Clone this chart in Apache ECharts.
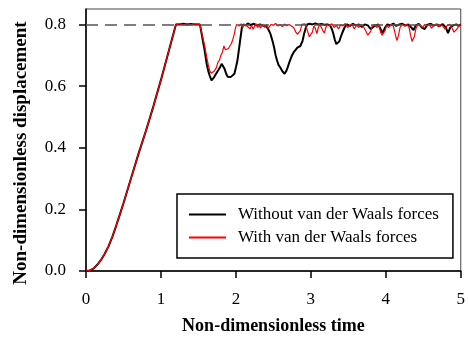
<!DOCTYPE html>
<html>
<head>
<meta charset="utf-8" />
<title></title>
<script src="https://cdn.jsdelivr.net/npm/echarts@6/dist/echarts.min.js"></script>
<style>
  html, body { margin: 0; padding: 0; background: #fff; }
  #chart { width: 468px; height: 340px; }
</style>
</head>
<body>
<div id="chart"></div>
<script>
// shared rise from rest up to the plateau
var riseT = [0, 0.05, 0.1, 0.15, 0.2, 0.25, 0.3, 0.35, 0.4, 0.45, 0.5, 0.6, 0.7, 0.8, 0.9, 1.0, 1.1, 1.2];
var riseV = [0, 0.002, 0.008, 0.02, 0.036, 0.056, 0.08, 0.11, 0.145, 0.182, 0.22, 0.3, 0.38, 0.455, 0.535, 0.62, 0.71, 0.8];

// without van der Waals forces
var blackT = [1.25, 1.3, 1.35, 1.4, 1.45, 1.52,
  1.55, 1.58, 1.61, 1.63, 1.65, 1.675, 1.69, 1.71, 1.73, 1.76, 1.79, 1.81, 1.83, 1.85, 1.87, 1.89, 1.91, 1.93, 1.95, 1.98, 2.0, 2.02, 2.05, 2.08, 2.1,
  2.13, 2.16, 2.2, 2.24, 2.28, 2.32, 2.36, 2.4, 2.43,
  2.46, 2.49, 2.51, 2.53, 2.55, 2.57, 2.59, 2.62, 2.65, 2.67, 2.69, 2.71, 2.73, 2.75, 2.77, 2.79, 2.82, 2.84, 2.86, 2.89, 2.91, 2.93, 2.95,
  2.98, 3.02, 3.06, 3.1, 3.14, 3.18, 3.22, 3.26,
  3.28, 3.3, 3.32, 3.34, 3.36, 3.38, 3.4, 3.42, 3.45, 3.48,
  3.52, 3.56, 3.6, 3.64, 3.68, 3.72, 3.76, 3.8, 3.82, 3.85, 3.9, 3.93, 3.96, 3.99, 4.02, 4.06, 4.1, 4.14, 4.18, 4.22, 4.26, 4.3, 4.34, 4.37, 4.4, 4.44, 4.48, 4.52, 4.55, 4.6, 4.64, 4.68, 4.72, 4.76, 4.8, 4.83, 4.86, 4.9, 4.94, 4.97, 5.0];
var blackV = [0.8, 0.802, 0.8, 0.801, 0.8, 0.8,
  0.76, 0.72, 0.672, 0.65, 0.634, 0.618, 0.622, 0.629, 0.63, 0.65, 0.662, 0.672, 0.668, 0.655, 0.64, 0.63, 0.625, 0.629, 0.626, 0.64, 0.66, 0.682, 0.736, 0.79, 0.8,
  0.797, 0.803, 0.798, 0.802, 0.797, 0.8, 0.796, 0.795, 0.785,
  0.77, 0.745, 0.725, 0.7, 0.682, 0.668, 0.661, 0.648, 0.64, 0.648, 0.66, 0.675, 0.688, 0.7, 0.709, 0.712, 0.725, 0.722, 0.73, 0.747, 0.77, 0.787, 0.8,
  0.802, 0.8, 0.803, 0.8, 0.801, 0.799, 0.8, 0.796,
  0.785, 0.77, 0.75, 0.736, 0.742, 0.745, 0.76, 0.773, 0.79, 0.8,
  0.795, 0.802, 0.797, 0.8, 0.792, 0.8, 0.797, 0.785, 0.78, 0.795, 0.8, 0.785, 0.772, 0.79, 0.8, 0.797, 0.803, 0.795, 0.8, 0.802, 0.796, 0.8, 0.79, 0.782, 0.797, 0.802, 0.79, 0.785, 0.798, 0.802, 0.796, 0.8, 0.795, 0.801, 0.79, 0.772, 0.79, 0.797, 0.8, 0.795, 0.8];

// with van der Waals forces
var redT = [1.25, 1.3, 1.35, 1.4, 1.45, 1.52,
  1.55, 1.58, 1.61, 1.63, 1.65, 1.67, 1.69, 1.71, 1.72, 1.74, 1.76, 1.78, 1.8, 1.82, 1.84, 1.86, 1.88, 1.9, 1.92, 1.94, 1.96, 1.98, 1.99, 2.01,
  2.03, 2.05, 2.07, 2.09, 2.11, 2.13, 2.15, 2.17, 2.19, 2.21, 2.23, 2.25, 2.27, 2.29, 2.31, 2.33, 2.35, 2.37, 2.39, 2.41, 2.43, 2.45, 2.47,
  2.5, 2.53, 2.56, 2.59, 2.62, 2.65, 2.68, 2.71, 2.74, 2.77, 2.8, 2.82, 2.84, 2.86, 2.88, 2.9, 2.92, 2.94, 2.96, 2.98, 3.0, 3.02, 3.04,
  3.06, 3.08, 3.1, 3.12, 3.14, 3.16, 3.18, 3.2, 3.22, 3.25, 3.28, 3.31, 3.34, 3.37, 3.4, 3.43, 3.46, 3.49, 3.52, 3.55, 3.58, 3.61, 3.64,
  3.67, 3.7, 3.73, 3.76, 3.78, 3.8, 3.82, 3.85, 3.88, 3.91, 3.93, 3.95, 3.97, 3.99, 4.01, 4.04, 4.07, 4.1, 4.12, 4.14, 4.15, 4.17, 4.19,
  4.22, 4.25, 4.28, 4.31, 4.33, 4.35, 4.36, 4.38, 4.4, 4.43, 4.46, 4.49, 4.52, 4.55, 4.58, 4.61, 4.64, 4.67, 4.7, 4.73, 4.76, 4.79,
  4.82, 4.85, 4.88, 4.91, 4.93, 4.95, 4.98, 5.0];
var redV = [0.802, 0.798, 0.803, 0.799, 0.802, 0.8,
  0.765, 0.735, 0.694, 0.67, 0.65, 0.642, 0.64, 0.648, 0.65, 0.66, 0.677, 0.684, 0.7, 0.71, 0.73, 0.718, 0.712, 0.722, 0.73, 0.738, 0.752, 0.77, 0.784, 0.8,
  0.806, 0.795, 0.802, 0.79, 0.8, 0.805, 0.794, 0.8, 0.786, 0.797, 0.784, 0.795, 0.802, 0.79, 0.797, 0.788, 0.8, 0.795, 0.79, 0.8, 0.787, 0.79, 0.8,
  0.797, 0.803, 0.795, 0.8, 0.793, 0.801, 0.796, 0.8, 0.795, 0.79, 0.775, 0.768, 0.762, 0.78, 0.8, 0.795, 0.802, 0.79, 0.775, 0.76, 0.757, 0.775, 0.795,
  0.787, 0.77, 0.79, 0.8, 0.795, 0.78, 0.772, 0.79, 0.8, 0.795, 0.802, 0.79, 0.797, 0.785, 0.8, 0.795, 0.803, 0.79, 0.797, 0.8, 0.785, 0.798, 0.79,
  0.8, 0.793, 0.78, 0.765, 0.762, 0.778, 0.795, 0.8, 0.79, 0.797, 0.775, 0.765, 0.762, 0.78, 0.797, 0.79, 0.8, 0.795, 0.775, 0.755, 0.748, 0.765, 0.79,
  0.8, 0.795, 0.8, 0.79, 0.765, 0.745, 0.742, 0.76, 0.785, 0.8, 0.797, 0.79, 0.8, 0.795, 0.8, 0.788, 0.798, 0.8, 0.792, 0.8, 0.795, 0.785,
  0.797, 0.8, 0.79, 0.775, 0.77, 0.785, 0.797, 0.8];

var xTicks = [0, 1, 2, 3, 4, 5];
var yTicks = [0, 0.2, 0.4, 0.6, 0.8];
var refLevel = 0.8;

function pairs(ts, vs) {
  var out = riseT.map(function (t, i) { return [t, riseV[i]]; });
  return out.concat(ts.map(function (t, i) { return [t, vs[i]]; }));
}

var serif = 'Liberation Serif';
var chart = echarts.init(document.getElementById('chart'));
chart.setOption({
  animation: false,
  textStyle: { fontFamily: serif },
  grid: { left: 86, right: 2, top: 9, bottom: 66, show: true, borderColor: '#444', borderWidth: 1 },
  legend: {
    orient: 'vertical',
    left: 177, top: 194,
    padding: [12, 14, 12, 11],
    itemWidth: 37, itemHeight: 16, itemGap: 6,
    borderColor: '#000', borderWidth: 1.5,
    backgroundColor: '#fff',
    itemStyle: { opacity: 0 },
    textStyle: { fontFamily: serif, fontSize: 17, color: '#000', padding: [0, 0, 0, 7] },
    data: ['Without van der Waals forces', 'With van der Waals forces']
  },
  xAxis: {
    type: 'value', min: 0, max: 5, interval: 1,
    name: 'Non-dimensionless time', nameLocation: 'middle', nameGap: 46,
    nameTextStyle: { fontFamily: serif, fontSize: 18, fontWeight: 'bold', color: '#000' },
    axisLine: { lineStyle: { color: '#000', width: 1.5 } },
    axisTick: { length: 7, lineStyle: { color: '#000', width: 1.5 }, customValues: xTicks },
    axisLabel: { margin: 20, fontSize: 17, color: '#000', fontFamily: serif, customValues: xTicks },
    splitLine: { show: false }
  },
  yAxis: {
    type: 'value', min: 0, max: 0.85, interval: 0.2,
    name: 'Non-dimensionless displacement', nameLocation: 'middle', nameGap: 55,
    nameTextStyle: { fontFamily: serif, fontSize: 19, fontWeight: 'bold', color: '#000', padding: [0, 26, 0, 0] },
    axisLine: { show: true, lineStyle: { color: '#000', width: 1.5 } },
    axisTick: { show: true, length: 7, lineStyle: { color: '#000', width: 1.5 }, customValues: yTicks },
    axisLabel: {
      margin: 20, fontSize: 17, color: '#000', fontFamily: serif, customValues: yTicks,
      formatter: function (v) { return v.toFixed(1); }
    },
    splitLine: { show: false }
  },
  series: [
    {
      name: 'Without van der Waals forces', type: 'line', symbol: 'none',
      data: pairs(blackT, blackV),
      lineStyle: { color: '#000', width: 2 }, itemStyle: { color: '#000' },
      markLine: {
        silent: true, symbol: 'none', label: { show: false },
        lineStyle: { color: '#555', type: [12, 7], width: 1.5 },
        data: [{ yAxis: refLevel }]
      }
    },
    {
      name: 'With van der Waals forces', type: 'line', symbol: 'none',
      data: pairs(redT, redV),
      lineStyle: { color: '#ff0000', width: 1.2 }, itemStyle: { color: '#ff0000' }
    }
  ]
});
</script>
</body>
</html>
